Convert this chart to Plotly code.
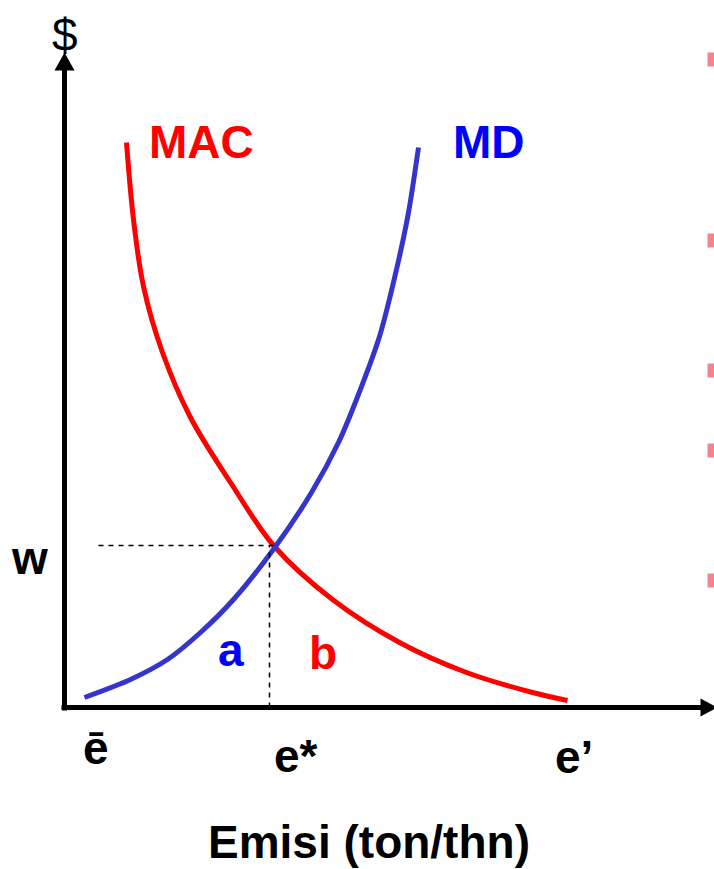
import plotly.graph_objects as go

# MAC curve (marginal abatement cost)
mac_x = [62, 69, 79, 98, 126, 166, 210, 268, 335, 402, 468, 503]
mac_y = [565, 488, 421, 355, 290, 225, 161, 108, 65, 35, 15, 7]

# MD curve (marginal damage)
md_x = [20, 66, 103, 136, 169, 211, 247, 274, 292, 315, 332, 344, 354]
md_y = [10, 28, 48, 75, 108, 161, 215, 265, 308, 371, 438, 495, 560]

# equilibrium
e_star = 205
w_level = 162

FONT = 'Liberation Sans, Arial, sans-serif'
RED = '#ff0000'
BLUE_LINE = '#3535cc'
BLUE_TEXT = '#0000ff'

fig = go.Figure()

fig.add_trace(go.Scatter(
    x=mac_x, y=mac_y, mode='lines',
    line=dict(color=RED, width=5, shape='spline', smoothing=1.0),
    hoverinfo='skip'))

fig.add_trace(go.Scatter(
    x=md_x, y=md_y, mode='lines',
    line=dict(color=BLUE_LINE, width=5, shape='spline', smoothing=0.8),
    hoverinfo='skip'))

# dashed guides
fig.add_shape(type='line', x0=34, x1=e_star + 5, y0=w_level, y1=w_level,
              line=dict(color='black', width=1.5, dash='5px,5px'))
fig.add_shape(type='line', x0=e_star, x1=e_star, y0=0, y1=w_level,
              line=dict(color='black', width=1.5, dash='5px,5px'))

# axes with arrows
fig.add_shape(type='line', x0=0, x1=0, y0=-3, y1=640,
              line=dict(color='black', width=5))
fig.add_shape(type='path', path='M -10,637 L 10,637 L 0,655 Z',
              fillcolor='black', line=dict(color='black', width=0))
fig.add_shape(type='line', x0=-3, x1=640, y0=0, y1=0,
              line=dict(color='black', width=5))
fig.add_shape(type='path', path='M 636,-9 L 636,9 L 653,0 Z',
              fillcolor='black', line=dict(color='black', width=0))

# pink marks at the right edge
for yc in [648, 467, 337, 257, 127]:
    fig.add_shape(type='rect', x0=643, x1=651, y0=yc - 7, y1=yc + 7,
                  fillcolor='rgba(240,90,100,0.75)', line=dict(width=0))


def label(text, x, y, color='black', size=46, bold=True):
    t = '<b>' + text + '</b>' if bold else text
    fig.add_annotation(x=x, y=y, text=t, showarrow=False,
                       xanchor='center', yanchor='middle',
                       font=dict(family=FONT, size=size, color=color))


label('$', 0, 673, bold=False)
label('MAC', 137, 566, color=RED)
label('MD', 424, 566, color=BLUE_TEXT)
label('w', -35, 150)
label('a', 166, 58, color=BLUE_TEXT)
label('b', 258, 55, color=RED)
label('ē', 31, -40)
label('e*', 231, -48)
label('e’', 509, -49)
label('Emisi (ton/thn)', 304, -134)

fig.update_xaxes(visible=False, range=[-64.5, 649.5], fixedrange=True)
fig.update_yaxes(visible=False, range=[-161.5, 707.5], fixedrange=True)

fig.update_layout(
    width=714,
    height=869,
    margin=dict(l=0, r=0, t=0, b=0, pad=0),
    paper_bgcolor='white',
    plot_bgcolor='white',
    showlegend=False,
    dragmode=False,
)

# drop the default page margin so the figure sits at the window corner
fig.write_html("out.html", config={'displayModeBar': False},
               post_script="document.body.style.margin='0';"
                           "document.body.style.overflow='hidden';")
